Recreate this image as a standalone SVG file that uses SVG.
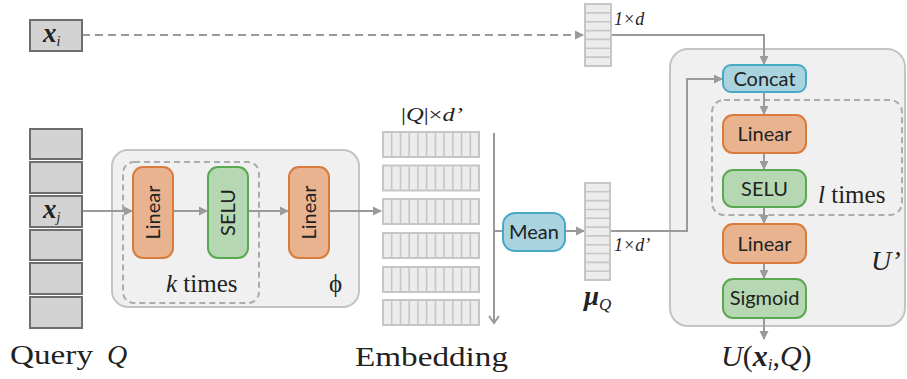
<svg xmlns="http://www.w3.org/2000/svg" width="907" height="379" viewBox="0 0 907 379">
<style>
.ln{fill:none;stroke:#9a9a9a;stroke-width:2}
.arr{fill:none;stroke:#9a9a9a;stroke-width:2;marker-end:url(#ah)}
.qbox{fill:#d3d3d3;stroke:#6e6e6e;stroke-width:2}
.cell{fill:#ececec;stroke:#c6c6c6;stroke-width:2}
.cl{stroke:#c6c6c6;stroke-width:1.6}
.panel{fill:#f0f0f0;stroke:#c4c4c4;stroke-width:2}
.dash{fill:none;stroke:#ababab;stroke-width:2;stroke-dasharray:6 4}
.lin{fill:#e9b38f;stroke:#d97b3c;stroke-width:2}
.selu{fill:#b5d8b3;stroke:#5ba852;stroke-width:2}
.blue{fill:#a9d3df;stroke:#48a9c4;stroke-width:2}
.lbl{font-family:Lato,"Open Sans",sans-serif;font-size:20px;fill:#222;text-anchor:middle}
.serif{font-family:"Liberation Serif","DejaVu Serif",serif;fill:#222}
.it{font-style:italic}
.bx{font-weight:bold;font-style:italic}
</style>
<defs>
<marker id="ah" markerWidth="10" markerHeight="10" refX="8" refY="5" orient="auto" markerUnits="userSpaceOnUse">
<path d="M0,0.5 L9,5 L0,9.5 Z" fill="#9a9a9a"/>
</marker>
<g id="erow">
<rect class="cell" x="383" y="0" width="96" height="25"/>
<path class="cl" d="M391.7,1V24M400.5,1V24M409.2,1V24M417.9,1V24M426.6,1V24M435.4,1V24M444.1,1V24M452.8,1V24M461.5,1V24M470.3,1V24"/>
</g>
</defs>

<!-- container panels -->
<g id="phi">
<rect class="panel" x="112" y="150" width="247" height="157" rx="16"/>
<rect class="dash" x="123" y="162" width="136" height="141" rx="11"/>
<text class="serif" x="166" y="292" font-size="25"><tspan class="it">k</tspan> times</text>
<text class="serif" x="329" y="292" font-size="25">ϕ</text>
</g>
<g id="uprime">
<rect class="panel" x="670" y="49" width="235" height="277" rx="18"/>
<rect class="dash" x="712" y="100" width="190" height="115" rx="12"/>
<text class="serif" x="818" y="203" font-size="25"><tspan class="it">l</tspan> times</text>
<text class="serif it" x="871" y="270" font-size="28">U’</text>
</g>

<!-- connectors -->
<g id="connectors">
<path class="ln" d="M82,35 H583" stroke-dasharray="8 5" marker-end="url(#ah)"/>
<path class="arr" d="M611,35 H764 V64"/>
<path class="arr" d="M82,211 H132"/>
<path class="arr" d="M173,211 H207"/>
<path class="arr" d="M249,211 H288"/>
<path class="arr" d="M329,211 H381"/>
<path class="ln" d="M494,133 V322"/>
<path class="ln" d="M489,316 L494,323 L499,316"/>
<path class="ln" d="M494,231 H503"/>
<path class="arr" d="M565,231 H584"/>
<path class="arr" d="M610,231 H687 V79 H722"/>
<path class="arr" d="M764,92 V114"/>
<path class="arr" d="M764,153 V169"/>
<path class="arr" d="M764,207 V223"/>
<path class="arr" d="M764,263 V278"/>
<path class="arr" d="M764,318 V339"/>
</g>

<!-- x_i -->
<g id="xi">
<rect class="qbox" x="30" y="20" width="52" height="31"/>
<text class="serif" x="43" y="42" font-size="27"><tspan class="bx">x</tspan><tspan class="it" font-size="14" dy="4">i</tspan></text>
</g>

<!-- 1 x d vector -->
<g id="vec-d">
<rect class="cell" x="585" y="4" width="26" height="62"/>
<path class="cl" d="M586,12.9H610M586,21.7H610M586,30.6H610M586,39.4H610M586,48.3H610M586,57.1H610"/>
<text class="serif it" x="614" y="25" font-size="18">1×d</text>
</g>

<!-- Query stack -->
<g id="query">
<rect class="qbox" x="30" y="129" width="52" height="30"/>
<rect class="qbox" x="30" y="162" width="52" height="31"/>
<rect class="qbox" x="30" y="196" width="52" height="31"/>
<rect class="qbox" x="30" y="230" width="52" height="30"/>
<rect class="qbox" x="30" y="263" width="52" height="31"/>
<rect class="qbox" x="30" y="297" width="52" height="31"/>
<text class="serif" x="43" y="218" font-size="27"><tspan class="bx">x</tspan><tspan class="it" font-size="14" dy="4">j</tspan></text>
<text class="serif" x="10" y="364" font-size="28" textLength="83" lengthAdjust="spacingAndGlyphs">Query</text>
<text class="serif it" x="107" y="364" font-size="28">Q</text>
</g>

<!-- phi inner nodes -->
<g id="phi-linear1">
<rect class="lin" x="133" y="167" width="40" height="91" rx="10"/>
<text class="lbl" transform="translate(160,212.5) rotate(-90)">Linear</text>
</g>
<g id="phi-selu">
<rect class="selu" x="208" y="167" width="40" height="91" rx="10"/>
<text class="lbl" transform="translate(235,212.5) rotate(-90)">SELU</text>
</g>
<g id="phi-linear2">
<rect class="lin" x="289" y="167" width="40" height="91" rx="10"/>
<text class="lbl" transform="translate(316,212.5) rotate(-90)">Linear</text>
</g>

<!-- Embedding -->
<g id="embedding">
<text class="serif" x="401" y="121" font-size="19" fill="#222" textLength="62" lengthAdjust="spacingAndGlyphs">|<tspan class="it">Q</tspan>|×<tspan class="it">d’</tspan></text>
<use href="#erow" y="132"/>
<use href="#erow" y="165.5"/>
<use href="#erow" y="199"/>
<use href="#erow" y="233"/>
<use href="#erow" y="267"/>
<use href="#erow" y="300"/>
<text class="serif" x="355" y="366" font-size="28" textLength="153" lengthAdjust="spacingAndGlyphs">Embedding</text>
</g>

<!-- Mean -->
<g id="mean">
<rect class="blue" x="503" y="213" width="62" height="38" rx="12"/>
<text class="lbl" x="534" y="238.5" font-size="21">Mean</text>
</g>

<!-- mu_Q -->
<g id="muQ">
<rect class="cell" x="585" y="183" width="25" height="97"/>
<path class="cl" d="M586,191.8H609M586,200.6H609M586,209.5H609M586,218.3H609M586,227.1H609M586,235.9H609M586,244.7H609M586,253.5H609M586,262.4H609M586,271.2H609"/>
<text class="serif it" x="614" y="251" font-size="18">1×d’</text>
<text class="serif" x="584" y="305" font-size="27" font-weight="bold" font-style="italic">μ<tspan font-size="17" font-weight="normal" dy="5">Q</tspan></text>
</g>

<!-- U' inner nodes -->
<g id="concat">
<rect class="blue" x="723" y="65" width="83" height="27" rx="8"/>
<text class="lbl" x="764.5" y="85.5">Concat</text>
</g>
<g id="u-linear1">
<rect class="lin" x="723" y="115" width="83" height="38" rx="10"/>
<text class="lbl" x="764.5" y="141">Linear</text>
</g>
<g id="u-selu">
<rect class="selu" x="723" y="170" width="83" height="37" rx="10"/>
<text class="lbl" x="764.5" y="195.5">SELU</text>
</g>
<g id="u-linear2">
<rect class="lin" x="723" y="224" width="83" height="39" rx="10"/>
<text class="lbl" x="764.5" y="250.5">Linear</text>
</g>
<g id="sigmoid">
<rect class="selu" x="723" y="279" width="83" height="39" rx="10"/>
<text class="lbl" x="764.5" y="305">Sigmoid</text>
</g>

<!-- output -->
<g id="output">
<text class="serif" x="721" y="366" font-size="30"><tspan class="it">U</tspan>(<tspan class="bx">x</tspan><tspan class="it" font-size="17" dy="4">i</tspan><tspan dy="-4">,</tspan><tspan class="it">Q</tspan>)</text>
</g>
</svg>
